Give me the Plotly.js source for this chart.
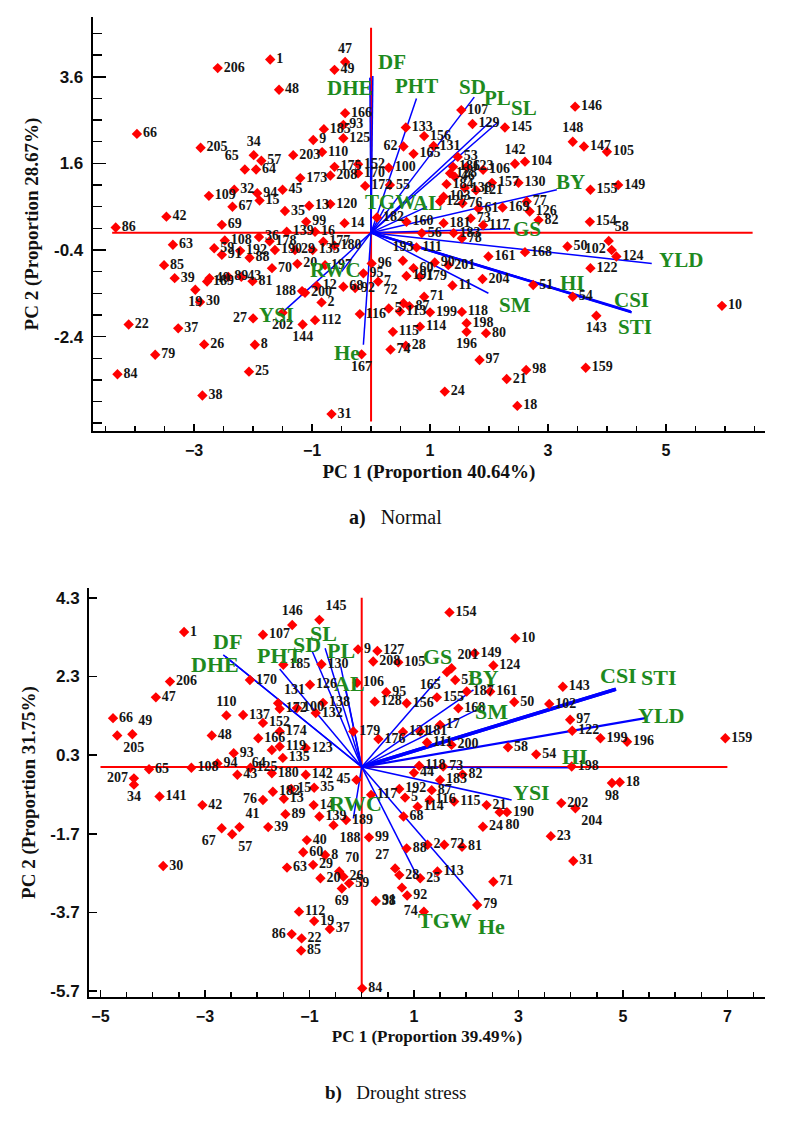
<!DOCTYPE html>
<html><head><meta charset="utf-8">
<script src="https://cdn.plot.ly/plotly-3.0.1.min.js"></script>
<style>body{margin:0;background:#fff}#chart{width:790px;height:1123px}</style>
</head><body><div id="chart"></div>
<script>
// ---------- Panel a) Normal ----------
const normalGenotypes = ['206','1','48','66','205','34','57','64','65','203',
 '109','32','67','94','15','45','35','13','120','42',
 '86','69','99','108','63','192','59','91','88','85',
 '189','40','39','19','30','89','43','81','70','190',
 '178','139','36','29','20','188','200','27','8','202',
 '144','112','22','37','26','79','84','25','38','14',
 '16','177','96','95','7','92','68','12','2','116',
 '193','111','60','191','90','201','179','11','204','161',
 '72','87','71','5','113','114','115','74','28','199',
 '118','198','196','80','97','24','21','98','18','51',
 '117','73','78','181','160','183','56','82','154','50',
 '58','102','124','122','54','143','159','10','47','49',
 '166','93','185','9','125','110','152','175','170','173',
 '208','172','100','55','62','165','133','156','131','107',
 '129','145','142','104','53','186','123','106','157','130',
 '128','46','184','138','121','103','127','61','169','76',
 '77','126','146','148','147','105','155','149','31','167',
 '168','135','180','197','182'];
const normalPC1 = [-2.60,-1.71,-1.56,-3.97,-2.89,-1.99,-1.86,-1.95,-2.14,-1.32,
 -2.75,-2.32,-2.35,-1.93,-1.89,-1.50,-1.46,-1.05,-0.69,-3.47,
 -4.33,-2.53,-1.10,-2.48,-3.36,-2.22,-2.66,-2.53,-2.06,-3.51,
 -2.78,-2.74,-3.33,-2.98,-2.90,-2.42,-2.20,-2.01,-1.68,-1.63,
 -1.72,-1.43,-1.90,-1.29,-1.25,-1.17,-1.12,-2.00,-1.97,-1.50,
 -1.16,-0.95,-4.11,-3.27,-2.83,-3.66,-4.30,-2.07,-2.86,-0.45,
 -0.95,-0.81,0.01,-0.13,0.12,-0.27,-0.47,-0.92,-0.84,-0.19,
 0.54,0.77,0.72,0.60,1.08,1.31,0.83,1.38,1.89,1.99,
 0.55,0.65,0.90,0.30,0.49,0.83,0.37,0.33,0.59,1.00,
 1.54,1.62,1.62,1.95,1.84,1.25,2.30,2.63,2.48,2.75,
 1.90,1.69,1.54,1.23,0.60,1.40,0.86,2.84,3.71,3.33,
 4.03,4.08,4.16,3.72,3.42,3.82,3.64,5.95,-0.44,-0.62,
 -0.44,-0.47,-0.80,-0.98,-0.47,-0.83,-0.22,-0.62,-0.22,-1.20,
 -0.69,-0.10,0.30,0.32,0.55,0.72,0.59,0.90,1.06,1.53,
 1.72,2.27,2.44,2.61,1.47,1.39,1.62,1.90,2.05,2.50,
 1.34,1.42,1.28,1.59,1.78,1.23,1.17,1.82,2.23,1.55,
 2.64,2.69,3.46,3.42,3.61,4.00,3.72,4.19,-0.67,-0.16,
 2.61,-0.99,-0.62,-0.78,0.10];
const normalPC2 = [3.80,4.00,3.30,2.28,1.96,1.79,1.66,1.46,1.46,1.79,
 0.85,0.99,0.60,0.91,0.74,0.99,0.50,0.62,0.66,0.37,
 0.12,0.18,0.25,-0.18,-0.28,-0.42,-0.36,-0.51,-0.58,-0.75,
 -1.13,-1.05,-1.05,-1.32,-1.60,-1.02,-1.02,-1.12,-0.82,-0.40,
 -0.20,0.02,-0.10,-0.40,-0.72,-1.35,-1.39,-1.98,-2.59,-1.85,
 -2.12,-2.02,-2.12,-2.21,-2.58,-2.82,-3.27,-3.21,-3.76,0.22,
 0.02,-0.21,-0.71,-0.94,-1.13,-1.28,-1.25,-1.23,-1.61,-1.88,
 -0.65,-0.34,-0.82,-1.00,-0.69,-0.75,-1.02,-1.22,-1.07,-0.55,
 -1.63,-1.70,-1.48,-1.75,-1.82,-2.17,-2.29,-2.70,-2.61,-1.84,
 -1.83,-2.09,-2.29,-2.32,-2.94,-3.67,-3.38,-3.17,-4.00,-1.21,
 0.17,0.33,-0.13,0.22,0.25,-0.01,-0.01,0.29,0.25,-0.32,
 -0.19,-0.40,-0.55,-0.82,-1.48,-1.92,-3.12,-1.69,3.94,3.76,
 2.76,2.49,2.39,2.14,2.18,1.86,1.58,1.52,1.37,1.26,
 1.32,1.08,1.50,1.10,1.99,1.82,2.43,2.23,2.00,2.83,
 2.51,2.43,1.59,1.64,1.75,1.52,1.52,1.45,1.15,1.15,
 1.37,1.29,1.12,1.03,0.98,0.83,0.72,0.56,0.58,0.68,
 0.72,0.49,2.91,2.10,1.99,1.87,0.99,1.10,-4.19,-2.81,
 -0.45,-0.40,-0.30,-0.75,0.35];
const normalTraits = ['DF','DHE','PHT','SD','PL','SL','TGW','AL','BY','GS','YLD','HI','CSI','STI','SM','He','RWC','YSI'];
const normalTraitPC1 = [0.03,-0.02,0.77,1.75,2.02,2.16,0.22,0.95,3.15,2.36,4.76,3.20,4.42,4.40,1.99,-0.13,-0.50,-1.46];
const normalTraitPC2 = [3.62,3.58,3.10,3.13,2.56,2.56,0.55,0.60,0.99,0.09,-0.71,-1.32,-1.84,-1.82,-1.40,-2.59,-0.90,-1.79];
const normalYTicks = [-2.4, -0.4, 1.6, 3.6];

// ---------- Panel b) Drought stress ----------
const droughtGenotypes = ['146','1','107','185','206','47','170','66','49','205',
 '110','137','48','131','172','152','174','166','119','93',
 '64','135','108','94','65','207','125','43','180','182',
 '15','13','76','89','39','41','67','57','42','141',
 '34','30','63','40','60','112','86','22','85','19',
 '37','8','29','70','20','26','69','59','145','154',
 '10','9','127','208','105','201','165','149','124','51',
 '187','161','50','168','155','106','95','156','17','181',
 '111','200','58','73','118','82','183','44','128','179',
 '176','121','130','126','138','100','132','84','143','102',
 '97','122','199','196','159','54','198','18','98','202',
 '204','23','31','21','80','190','24','45','35','14',
 '139','189','188','99','117','192','87','5','116','115',
 '114','68','88','2','72','81','27','28','25','113',
 '71','91','92','38','79','74','142','123'];
const droughtPC1 = [-1.33,-3.40,-1.89,-1.50,-3.67,-3.94,-2.14,-4.76,-4.39,-4.68,
 -2.59,-2.27,-2.87,-1.60,-1.57,-1.89,-1.57,-1.98,-1.57,-2.45,
 -1.72,-1.51,-3.26,-2.76,-4.07,-4.36,-2.13,-2.38,-1.72,-1.70,
 -1.35,-1.49,-1.89,-1.46,-1.79,-2.34,-2.68,-2.48,-3.05,-3.87,
 -4.36,-3.80,-1.43,-1.05,-1.12,-1.20,-1.34,-1.15,-1.16,-0.91,
 -0.61,-0.70,-0.93,-0.43,-0.79,-0.35,-0.38,-0.24,-0.81,1.68,
 2.94,-0.07,0.30,0.22,0.70,1.72,1.63,2.16,2.52,1.79,
 2.01,2.46,2.92,1.85,1.44,-0.09,0.47,0.86,1.50,1.12,
 1.25,1.72,2.80,1.56,1.10,1.93,1.50,1.00,0.25,-0.16,
 0.32,0.79,-0.77,-0.99,-0.74,-1.24,-0.88,0.01,3.85,3.59,
 3.99,4.03,4.57,5.08,6.96,3.34,4.02,4.94,4.79,3.82,
 4.09,3.62,4.05,2.39,2.64,2.78,2.32,-0.10,-0.91,-0.92,
 -0.81,-0.30,-0.54,0.14,0.18,0.72,1.34,0.83,1.30,1.77,
 1.07,0.80,0.86,1.26,1.58,1.92,0.64,0.72,1.12,1.45,
 2.52,0.77,0.87,0.27,2.21,1.19,-1.07,-1.07];
const droughtPC2 = [3.61,3.43,3.36,2.60,2.17,1.77,2.21,1.24,0.83,0.80,
 1.31,1.32,0.80,1.62,1.48,1.12,0.90,0.73,0.52,0.35,
 0.43,0.23,-0.02,0.09,-0.06,-0.29,-0.02,-0.20,-0.16,-0.63,
 -0.56,-0.81,-0.84,-1.20,-1.53,-1.53,-1.56,-1.71,-0.97,-0.75,
 -0.45,-2.52,-2.56,-1.86,-2.17,-3.68,-4.25,-4.36,-4.67,-3.92,
 -4.12,-2.24,-2.49,-2.66,-2.83,-2.79,-3.09,-2.96,3.74,3.93,
 3.27,2.99,2.95,2.68,2.66,2.51,2.41,2.89,2.58,2.21,
 1.92,1.92,1.65,1.49,1.77,2.14,1.90,1.62,1.07,0.90,
 0.62,0.56,0.50,0.01,0.03,-0.19,-0.33,-0.15,1.66,0.90,
 0.71,0.89,2.61,2.09,1.63,1.50,1.37,-5.63,2.04,1.60,
 1.20,0.92,0.73,0.64,0.73,0.32,0.01,-0.39,-0.41,-0.92,
 -1.05,-1.76,-2.39,-0.97,-1.15,-1.15,-1.52,-0.33,-0.53,-0.97,
 -1.26,-1.35,-1.48,-1.79,-0.71,-0.56,-0.59,-0.78,-0.84,-0.88,
 -1.01,-1.26,-2.07,-1.98,-1.98,-2.03,-2.58,-2.75,-2.83,-2.66,
 -2.92,-3.07,-3.27,-3.41,-3.51,-3.68,-0.20,0.48];
const droughtTraits = ['DF','DHE','PHT','SD','SL','PL','AL','GS','BY','SM','CSI','STI','YLD','HI','YSI','RWC','TGW','He'];
const droughtTraitPC1 = [-2.65,-2.60,-1.57,-0.95,-0.70,-0.40,-0.30,1.50,2.14,2.20,4.87,4.85,5.43,4.05,2.87,-0.16,1.05,2.23];
const droughtTraitPC2 = [2.85,2.80,2.49,2.95,3.02,2.55,1.95,2.30,1.96,1.45,1.98,1.97,1.24,-0.02,-0.84,-1.31,-2.75,-3.43];
const droughtYTicks = [-5.7, -3.7, -1.7, 0.3, 2.3, 4.3];

// ---------- styling (label placement / line widths) ----------
const normalLabelPos = {'148':'top center','47':'top center','202':'bottom center','144':'bottom center',
 '196':'bottom center','143':'bottom center','167':'bottom center','65':'top left','34':'top center',
 '188':'middle left','27':'middle left','102':'middle left','62':'middle left','19':'bottom center',
 '142':'top center','58':'top right','193':'top center','72':'top left'};
const droughtLabelPos = {'146':'top center','145':'top right','110':'top center','131':'top right',
 '205':'bottom right','49':'top right','67':'bottom left','57':'bottom right','41':'top right','86':'middle left',
 '98':'bottom center','204':'bottom right','80':'bottom right','34':'bottom center','188':'bottom right',
 '69':'bottom center','74':'middle left','64':'bottom left','207':'middle left','76':'middle left',
 '201':'top right','165':'bottom left','70':'top right','27':'top left','91':'bottom left','45':'middle left'};
const normalTraitStyle = {DF:[19,-14],DHE:[-20,10],PHT:[0,-12],SD:[-2,-10],PL:[7,-24],SL:[26,-14],
 TGW:[6,-7],AL:[0,-4],BY:[14,-8],GS:[17,0],YLD:[29,-3],HI:[13,-7],CSI:[0,-12,2.5],STI:[4,16,2.5],
 SM:[27,12],He:[-16,8],RWC:[-6,-2],YSI:[-8,5]};
const droughtTraitStyle = {DF:[4,-13],DHE:[-11,8],PHT:[0,-14],SD:[-5,-6],SL:[-2,-15],PL:[0,-16],
 AL:[3,-7],GS:[-3,-20],BY:[10,-12],SM:[15,2],CSI:[2,-14,3.5],STI:[43,-12,3.5],YLD:[16,-3,2.2],
 HI:[2,-11],YSI:[20,-7],RWC:[2,-15],TGW:[28,45],He:[13,25]};

const traces = [], annotations = [], shapes = [];
const SERIF = 'Liberation Serif, Times New Roman, serif';
const SANS = 'Liberation Sans, Arial, sans-serif';

function addPanel(xa, ya, genos, pc1, pc2, traits, tx, ty, posMap, tStyle, tFont, hx, vy) {
  shapes.push({type:'line', xref:xa, yref:ya, x0:hx[0], x1:hx[1], y0:0, y1:0, line:{color:'#ff0000', width:2}, layer:'below'});
  shapes.push({type:'line', xref:xa, yref:ya, x0:0, x1:0, y0:vy[0], y1:vy[1], line:{color:'#ff0000', width:2}, layer:'below'});
  traits.forEach((t, i) => {
    const s = tStyle[t] || [0, 0];
    traces.push({type:'scatter', mode:'lines', x:[0, tx[i]], y:[0, ty[i]], xaxis:xa, yaxis:ya,
      line:{color:'#0000ff', width:s[2] || 1.5}, hoverinfo:'skip', showlegend:false});
    annotations.push({xref:xa, yref:ya, x:tx[i], y:ty[i], text:t, showarrow:false,
      xshift:s[0], yshift:-s[1], font:{family:SERIF, size:tFont, color:'#1e8a1e', weight:'bold'}});
  });
  traces.push({type:'scatter', mode:'markers+text', x:pc1, y:pc2, text:genos, xaxis:xa, yaxis:ya,
    textposition: genos.map(g => posMap[g] || 'middle right'),
    textfont:{family:SERIF, size:14, color:'#151515', weight:'bold'},
    marker:{symbol:'diamond', size:8, color:'#ff0000'}, cliponaxis:false, hoverinfo:'skip', showlegend:false});
}

addPanel('x', 'y', normalGenotypes, normalPC1, normalPC2, normalTraits, normalTraitPC1, normalTraitPC2,
  normalLabelPos, normalTraitStyle, 21, [-4.39, 6.47], [-4.36, 4.73]);
addPanel('x2', 'y2', droughtGenotypes, droughtPC1, droughtPC2, droughtTraits, droughtTraitPC1, droughtTraitPC2,
  droughtLabelPos, droughtTraitStyle, 22, [-5.0, 7.0], [-5.7, 4.3]);

annotations.push({xref:'paper', yref:'paper', x:0.5, y:1 - 517/1123, text:'<b>a)</b>&nbsp;&nbsp;&nbsp;Normal',
  showarrow:false, font:{family:SERIF, size:20, color:'#111'}});
annotations.push({xref:'paper', yref:'paper', x:0.5, y:1 - 1106/1123, text:'<b>b)</b>&nbsp;&nbsp;&nbsp;Drought stress',
  showarrow:false, font:{family:SERIF, size:19, color:'#111'}});

function axisCommon(fs) {
  return {showline:true, linecolor:'#000', linewidth:2, showgrid:false, zeroline:false, mirror:false,
    ticks:'inside', tickcolor:'#000', tickwidth:1.5, ticklabelstandoff:4,
    tickfont:{family:SANS, size:fs, color:'#111', weight:'bold'}};
}
const titleFontTop = {family:SERIF, size:19, color:'#111', weight:'bold'};
const titleFontBot = {family:SERIF, size:17, color:'#111', weight:'bold'};

const layout = {
  width:790, height:1123, margin:{l:0, r:0, t:0, b:0}, paper_bgcolor:'#fff', plot_bgcolor:'#fff',
  showlegend:false, shapes, annotations,
  xaxis: Object.assign(axisCommon(16), {domain:[92.7/790, 765/790], range:[-4.72, 6.68], anchor:'y',
    tickmode:'linear', tick0:-3, dtick:2, ticklen:7,
    minor:{ticks:'inside', tick0:-3, dtick:0.5, ticklen:5, tickcolor:'#000'},
    title:{text:'PC 1 (Proportion 40.64%)', font:titleFontTop, standoff:6}}),
  yaxis: Object.assign(axisCommon(17), {domain:[1 - 431/1123, 1 - 17/1123], range:[-4.58, 4.98], anchor:'x',
    tickmode:'array', tickvals:normalYTicks, ticktext:normalYTicks.map(v => v.toFixed(1)), ticklen:13,
    minor:{ticks:'inside', tickmode:'linear', tick0:-0.4, dtick:0.5, ticklen:9, tickcolor:'#000'},
    title:{text:'PC 2 (Proportion 28.67%)', font:titleFontTop, standoff:10}}),
  xaxis2: Object.assign(axisCommon(16), {domain:[89/790, 765/790], range:[-5.22, 7.72], anchor:'y2',
    tickmode:'linear', tick0:-5, dtick:2, ticklen:7,
    minor:{ticks:'inside', tick0:-5, dtick:0.5, ticklen:5, tickcolor:'#000'},
    title:{text:'PC 1 (Proportion 39.49%)', font:titleFontBot, standoff:6}}),
  yaxis2: Object.assign(axisCommon(17), {domain:[1 - 997/1123, 1 - 588/1123], range:[-5.85, 4.55], anchor:'x2',
    tickmode:'array', tickvals:droughtYTicks, ticktext:droughtYTicks.map(v => v.toFixed(1)), ticklen:8,
    title:{text:'PC 2 (Proportion 31.75%)', font:titleFontTop, standoff:10}})
};

Plotly.newPlot('chart', traces, layout, {staticPlot:true, displayModeBar:false});
</script>
</body></html>
